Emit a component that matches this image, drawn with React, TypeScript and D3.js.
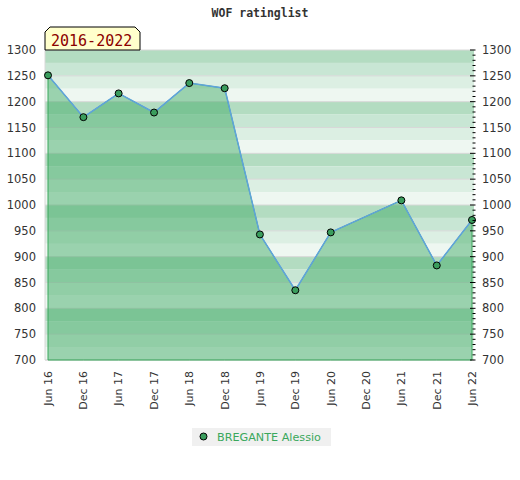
import React from "react";
import * as d3 from "d3";

const title = "WOF ratinglist";
const periodLabel = "2016-2022";
const seriesName = "BREGANTE Alessio";

const tickLabels = ["Jun 16", "Dec 16", "Jun 17", "Dec 17", "Jun 18", "Dec 18", "Jun 19", "Dec 19", "Jun 20", "Dec 20", "Jun 21", "Dec 21", "Jun 22"];
const tickDates = ["2016-06", "2016-12", "2017-06", "2017-12", "2018-06", "2018-12", "2019-06", "2019-12", "2020-06", "2020-12", "2021-06", "2021-12", "2022-06"];

const pointDates = ["2016-06", "2016-12", "2017-06", "2017-12", "2018-06", "2018-12", "2019-06", "2019-12", "2020-06", "2021-06", "2021-12", "2022-06"];
const ratings = [1251, 1170, 1216, 1179, 1236, 1226, 943, 835, 947, 1009, 883, 971];

const yMin = 700;
const yMax = 1300;
const bandColors = ["#b3dcc1", "#c8e6d4", "#dcefe3", "#eef7f1"];

const parse = d3.timeParse("%Y-%m");

export default function App() {
  const left = 45;
  const right = 474;
  const top = 50;
  const bottom = 360;
  const x = d3
    .scaleTime()
    .domain([parse(tickDates[0])!, parse(tickDates[tickDates.length - 1])!])
    .range([48, 472]);
  const y = d3.scaleLinear().domain([yMin, yMax]).range([bottom, top]);

  const pts = pointDates.map((d, i) => ({ d: parse(d)!, v: ratings[i] }));
  const line = d3
    .line<{ d: Date; v: number }>()
    .x((p) => x(p.d))
    .y((p) => y(p.v));
  const area = d3
    .area<{ d: Date; v: number }>()
    .x((p) => x(p.d))
    .y0(y(yMin))
    .y1((p) => y(p.v));

  const bands = d3.range(yMax, yMin, -25);
  const majors = d3.range(yMin, yMax + 1, 50);
  const minors = d3.range(yMin, yMax + 1, 10);

  const labelFont = "'DejaVu Sans', sans-serif";

  return (
    <svg
      width={520}
      height={480}
      style={{ position: "absolute", left: 0, top: 0, background: "#fff" }}
      fontFamily={labelFont}
    >
      <text
        x={260}
        y={17}
        textAnchor="middle"
        fontFamily="'DejaVu Sans Mono', monospace"
        fontWeight="bold"
        fontSize={11.5}
        fill="#333"
      >
        {title}
      </text>

      {bands.map((t, i) => (
        <rect
          key={t}
          x={left}
          y={y(t)}
          width={right - left}
          height={y(t - 25) - y(t)}
          fill={bandColors[i % 4]}
        />
      ))}
      {majors.map((v) => (
        <line key={v} x1={left} x2={right} y1={y(v)} y2={y(v)} stroke="#d8d8d8" strokeWidth={1} />
      ))}
      <line x1={left} x2={left} y1={top} y2={bottom} stroke="#d8d8d8" />
      <line x1={left} x2={right} y1={bottom} y2={bottom} stroke="#d8d8d8" />

      <path d={area(pts)!} fill="rgb(62,170,101)" fillOpacity={0.48} stroke="#3aa85c" strokeWidth={1} />
      <path d={line(pts)!} fill="none" stroke="#5fa3dc" strokeWidth={1.5} />
      {pts.map((p, i) => (
        <circle key={i} cx={x(p.d)} cy={y(p.v)} r={3.5} fill="#3a9d5d" stroke="#000" strokeWidth={1} />
      ))}

      {minors.map((v) => (
        <line key={"m" + v} x1={v % 50 === 0 ? 470 : 472.5} x2={475.5} y1={y(v)} y2={y(v)} stroke="#000" strokeWidth={1} />
      ))}

      {majors.map((v) => (
        <text key={"l" + v} x={36} y={y(v)} dy="0.35em" textAnchor="end" fontSize={11.5} fill="#333">
          {v}
        </text>
      ))}
      {majors.map((v) => (
        <text key={"r" + v} x={482} y={y(v)} dy="0.35em" textAnchor="start" fontSize={11.5} fill="#333">
          {v}
        </text>
      ))}

      {tickDates.map((d, i) => {
        const px = x(parse(d)!);
        return (
          <text
            key={d}
            transform={`translate(${px},371) rotate(-90)`}
            textAnchor="end"
            dy="0.35em"
            fontSize={11}
            fill="#333"
          >
            {tickLabels[i]}
          </text>
        );
      })}

      <path d="M45,50 L45,32 L50,27 L135,27 L140,32 L140,50 Z" fill="#ffffcc" stroke="#000" strokeWidth={1} />
      <text x={51} y={46} fontFamily="'DejaVu Sans Mono', monospace" fontSize={15} fill="#8b0000">
        {periodLabel}
      </text>

      <rect x={192} y={428} width={139} height={18} fill="#f0f0f0" />
      <circle cx={203.5} cy={436.5} r={3.5} fill="#3a9d5d" stroke="#000" strokeWidth={1} />
      <text x={217} y={440.5} fontSize={11.2} fill="#3aa85c">
        {seriesName}
      </text>
    </svg>
  );
}
